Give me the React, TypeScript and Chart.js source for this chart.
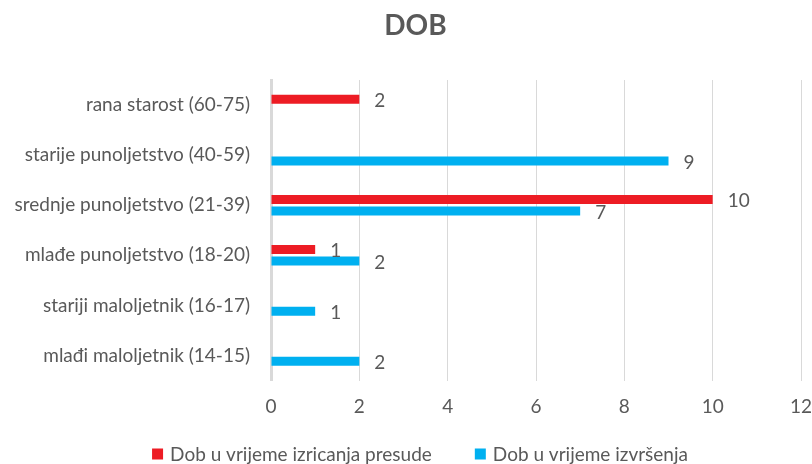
import React, { useEffect, useRef } from "react";
import { Chart, registerables } from "chart.js";

Chart.register(...registerables);

const TITLE = "DOB";
const CATEGORIES = [
  "rana starost (60-75)",
  "starije punoljetstvo (40-59)",
  "srednje punoljetstvo (21-39)",
  "mlađe punoljetstvo (18-20)",
  "stariji maloljetnik (16-17)",
  "mlađi maloljetnik (14-15)",
];
const SERIES_NAMES = ["Dob u vrijeme izricanja presude", "Dob u vrijeme izvršenja"];
const PRESUDE: (number | null)[] = [2, null, 10, 1, null, null];
const IZVRSENJA: (number | null)[] = [null, 9, 7, 2, 1, 2];
const X_TICKS = [0, 2, 4, 6, 8, 10, 12];

const RED = "#ED1C24";
const BLUE = "#00B0F0";
const TEXT = "#595959";
const FONT = "Lato";
const FS = 19;

const extrasPlugin = {
  id: "extras",
  afterDatasetsDraw(chart: any) {
    const ctx = chart.ctx;
    ctx.save();
    ctx.font = `${FS}px ${FONT}`;
    ctx.fillStyle = TEXT;
    ctx.textAlign = "left";
    ctx.textBaseline = "middle";
    chart.data.datasets.forEach((ds: any, di: number) => {
      const meta = chart.getDatasetMeta(di);
      meta.data.forEach((el: any, i: number) => {
        const v = ds.data[i];
        if (v === null || v === undefined) return;
        ctx.fillText(String(v), el.x + 15, el.y + 1.5);
      });
    });
    ctx.restore();
  },
  afterDraw(chart: any) {
    const ctx = chart.ctx;
    ctx.save();
    // title
    ctx.font = `bold 28px ${FONT}`;
    ctx.fillStyle = TEXT;
    ctx.textAlign = "center";
    ctx.textBaseline = "middle";
    ctx.fillText(TITLE, 415.5, 26);
    // legend
    ctx.font = `${FS}px ${FONT}`;
    const box = 11;
    const gapBoxText = 7;
    const gapItems = 43;
    const colors = [RED, BLUE];
    const widths = SERIES_NAMES.map((n) => ctx.measureText(n).width);
    const total = widths.reduce((a, w) => a + box + gapBoxText + w, 0) + gapItems * (SERIES_NAMES.length - 1);
    let x = 420 - total / 2;
    const cy = 454;
    ctx.textAlign = "left";
    SERIES_NAMES.forEach((n, i) => {
      ctx.fillStyle = colors[i];
      ctx.fillRect(x, cy - box / 2, box, box);
      x += box + gapBoxText;
      ctx.fillStyle = TEXT;
      ctx.fillText(n, x, cy + 1);
      x += widths[i] + gapItems;
    });
    ctx.restore();
  },
};

export default function App() {
  const ref = useRef<HTMLCanvasElement>(null);
  useEffect(() => {
    if (!ref.current) return;
    const chart = new Chart(ref.current, {
      type: "bar",
      data: {
        labels: CATEGORIES,
        datasets: [
          {
            label: SERIES_NAMES[0],
            data: PRESUDE,
            backgroundColor: RED,
            categoryPercentage: 0.46,
            barPercentage: 0.78,
          },
          {
            label: SERIES_NAMES[1],
            data: IZVRSENJA,
            backgroundColor: BLUE,
            categoryPercentage: 0.46,
            barPercentage: 0.78,
          },
        ],
      },
      options: {
        indexAxis: "y",
        animation: false,
        responsive: true,
        maintainAspectRatio: false,
        layout: { padding: { top: 80, right: 11, left: 0, bottom: 0 } },
        plugins: {
          legend: { display: false },
          title: { display: false },
          tooltip: { enabled: false },
        },
        scales: {
          x: {
            type: "linear",
            min: X_TICKS[0],
            max: X_TICKS[X_TICKS.length - 1],
            afterBuildTicks(scale: any) {
              scale.ticks = X_TICKS.map((v) => ({ value: v }));
            },
            afterFit(scale: any) {
              scale.height = 83.5;
              scale.paddingLeft = 0;
              scale.paddingRight = 0;
            },
            grid: { color: "#d9d9d9", lineWidth: 1, drawTicks: false },
            border: { display: false },
            ticks: {
              padding: 15,
              color: TEXT,
              font: { family: FONT, size: FS },
            },
          },
          y: {
            afterFit(scale: any) {
              scale.width = 271;
              scale.paddingTop = 0;
              scale.paddingBottom = 0;
            },
            grid: { display: false, drawTicks: false },
            border: { display: true, color: "#d9d9d9", width: 3 },
            ticks: {
              padding: 21,
              color: TEXT,
              font: { family: FONT, size: FS },
            },
          },
        },
      },
      plugins: [extrasPlugin],
    } as any);
    return () => chart.destroy();
  }, []);
  return (
    <div style={{ position: "fixed", left: 0, top: 0, width: 812, height: 464, background: "#fff" }}>
      <canvas ref={ref} />
    </div>
  );
}
